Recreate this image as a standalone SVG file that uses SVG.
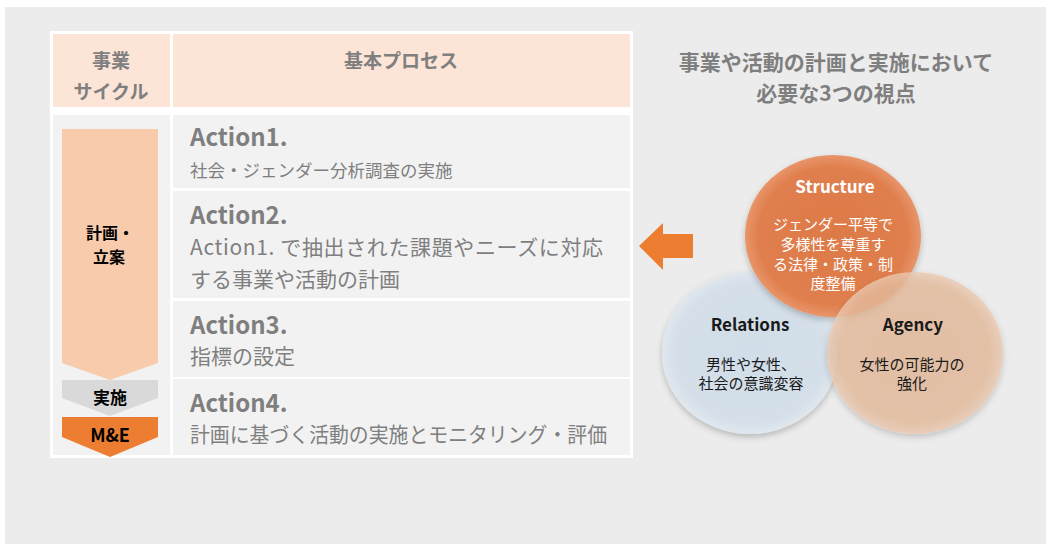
<svg xmlns="http://www.w3.org/2000/svg" width="1046" height="544" viewBox="0 0 1046 544">
<style>
text{font-family:"Noto Sans CJK JP","Noto Sans",sans-serif}
.hd{font-size:19px;font-weight:700;fill:#7f7f7f;text-anchor:middle}
.act{font-size:24px;font-weight:700;fill:#7f7f7f}
.desc{font-size:21px;fill:#7f7f7f}
.desc1{font-size:17.5px;fill:#7f7f7f}
.lbl{font-size:17px;font-weight:700;fill:#000;text-anchor:middle}
.ttl{font-size:21px;font-weight:700;fill:#7f7f7f;text-anchor:middle}
.ct{font-size:17px;font-weight:700;text-anchor:middle}
.cb{font-size:15px;text-anchor:middle}
.cell{fill:#f2f2f2}
.hcell{fill:#fce4d6}
</style>
<defs>
<radialGradient id="gS" cx="0.5" cy="0.5" r="0.5">
<stop offset="0" stop-color="#dc7a47"/><stop offset="0.85" stop-color="#e07f4e"/><stop offset="1" stop-color="#e8956a"/>
</radialGradient>
<radialGradient id="gR" cx="0.5" cy="0.5" r="0.5">
<stop offset="0" stop-color="#d1dde8"/><stop offset="0.85" stop-color="#d4dfe9"/><stop offset="1" stop-color="#e0e7ee"/>
</radialGradient>
<radialGradient id="gA" cx="0.5" cy="0.5" r="0.5">
<stop offset="0" stop-color="#e4b896"/><stop offset="0.85" stop-color="#e6bb9b"/><stop offset="1" stop-color="#eccab2"/>
</radialGradient>
<filter id="sh" x="-20%" y="-20%" width="140%" height="150%">
<feDropShadow dx="0" dy="3" stdDeviation="3" flood-color="#000" flood-opacity="0.22"/>
</filter>
</defs>
<rect x="5" y="7" width="1041" height="537" fill="#ececec"/>
<g id="table">
<rect x="50" y="31" width="583" height="427" fill="#ffffff"/>
<rect class="hcell" x="53" y="34" width="117" height="73"/>
<rect class="hcell" x="173" y="34" width="457" height="73"/>
<rect class="cell" x="53" y="115" width="117" height="340"/>
<rect class="cell" x="173" y="115" width="457" height="73"/>
<rect class="cell" x="173" y="191" width="457" height="107"/>
<rect class="cell" x="173" y="301" width="457" height="76"/>
<rect class="cell" x="173" y="379" width="457" height="76"/>
</g>
<g id="header-cycle"><text class="hd" x="111" y="68">事業</text><text class="hd" x="111" y="99">サイクル</text></g>
<g id="header-process"><text class="hd" x="401" y="68">基本プロセス</text></g>
<g id="stage-plan">
<polygon points="62,129 158,129 158,363 110,380 62,363" fill="#f8cbad"/>
<text class="lbl" x="86" y="239" style="text-anchor:start;font-size:16px">計画・</text><text class="lbl" x="109" y="263" style="font-size:16px">立案</text>
</g>
<g id="stage-impl">
<polygon points="62,380 158,380 158,398 110,416 62,398" fill="#d9d9d9"/>
<text class="lbl" x="110" y="404">実施</text>
</g>
<g id="stage-me">
<polygon points="62,417 158,417 158,437 110,457 62,437" fill="#ed7d31"/>
<text class="lbl" x="110" y="442" style="font-size:18px">M&amp;E</text>
</g>
<g id="action1"><text class="act" x="190" y="146">Action1.</text><text class="desc1" x="190" y="177">社会・ジェンダー分析調査の実施</text></g>
<g id="action2"><text class="act" x="190" y="224">Action2.</text><text class="desc" x="190" y="255" textLength="413" lengthAdjust="spacing">Action1. で抽出された課題やニーズに対応</text><text class="desc" x="190" y="287">する事業や活動の計画</text></g>
<g id="action3"><text class="act" x="190" y="334">Action3.</text><text class="desc" x="190" y="364">指標の設定</text></g>
<g id="action4"><text class="act" x="190" y="412">Action4.</text><text class="desc" x="190" y="442" textLength="417" lengthAdjust="spacingAndGlyphs">計画に基づく活動の実施とモニタリング・評価</text></g>
<g id="title"><text class="ttl" x="836" y="70">事業や活動の計画と実施において</text><text class="ttl" x="836" y="101">必要な3つの視点</text></g>
<g id="connectors">
<polygon points="639,246 663,223 663,234 693,234 693,258 663,258 663,270" fill="#ed7d31"/>
</g>
<g id="relations">
<ellipse cx="750" cy="353" rx="88" ry="81" fill="url(#gR)" filter="url(#sh)"/>
</g>
<g id="structure">
<ellipse cx="833" cy="236" rx="88" ry="81" fill="url(#gS)" filter="url(#sh)"/>
</g>
<g id="agency">
<ellipse cx="915" cy="353" rx="88" ry="81" fill="url(#gA)" fill-opacity="0.78" filter="url(#sh)"/>
</g>
<g id="relations-text" fill="#1a1a1a">
<text class="ct" x="750" y="331">Relations</text>
<text class="cb" x="751" y="370">男性や女性、</text><text class="cb" x="751" y="389">社会の意識変容</text>
</g>
<g id="structure-text" fill="#ffffff">
<text class="ct" x="835" y="193">Structure</text>
<text class="cb" x="833" y="230">ジェンダー平等で</text><text class="cb" x="833" y="250">多様性を尊重す</text><text class="cb" x="833" y="270">る法律・政策・制</text><text class="cb" x="833" y="289">度整備</text>
</g>
<g id="agency-text" fill="#1a1a1a">
<text class="ct" x="913" y="331">Agency</text>
<text class="cb" x="912" y="370">女性の可能力の</text><text class="cb" x="912" y="389">強化</text>
</g>
</svg>
